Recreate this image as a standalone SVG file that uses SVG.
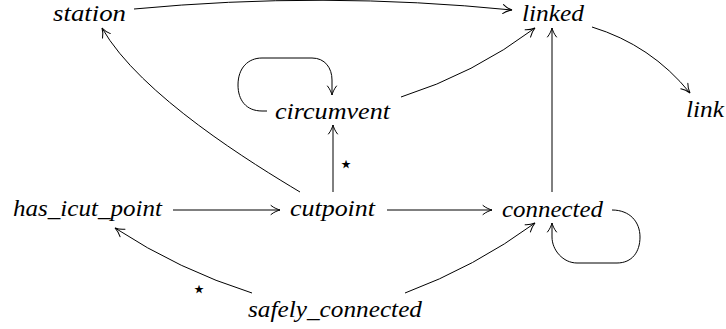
<svg xmlns="http://www.w3.org/2000/svg" width="726" height="329" viewBox="0 0 726 329">
<style>
  .edge { fill: none; stroke: #000; stroke-width: 1; marker-end: url(#arr); }
</style>
<defs>
  <marker id="arr" markerUnits="userSpaceOnUse" orient="auto" markerWidth="14" markerHeight="14" refX="0" refY="0" viewBox="-11 -7 14 14" overflow="visible">
    <path d="M-9,-4.5 C-6,-2 -2,-0.5 0,0 C-2,0.5 -6,2 -9,4.5" fill="none" stroke="#000" stroke-width="1" stroke-linecap="round"/>
  </marker>
</defs>
<g id="connectors">
  <path class="edge" d="M134,9 Q323,-9 512,10"/>
  <path class="edge" d="M592,27 Q651,45 690,93"/>
  <path class="edge" d="M401,97 Q474,74 535,28"/>
  <path class="edge" d="M267,111 L262,111 C246,111 238,100 238,85 C238,68 248,58 262,58 L312,58 C325,58 332,68 332,80 L332,95"/>
  <path class="edge" d="M333,192 L333,125"/>
  <path class="edge" d="M300,192 C255,165 140,95 102,28"/>
  <path class="edge" d="M173,210 L280,210"/>
  <path class="edge" d="M387,210 L492,210"/>
  <path class="edge" d="M552,192 L552,28"/>
  <path class="edge" d="M612,210 C630,210 640,222 640,237 C640,252 632,263 617,263 L577,263 C563,263 552,250 552,237 L552,223"/>
  <path class="edge" d="M405,293 Q475,267 535,223"/>
  <path class="edge" d="M252,293 Q179,270 115,228"/>
  <g font-family="DejaVu Sans" font-size="24" text-anchor="middle" fill="#000">
    <text x="346" y="171.5">⋆</text>
    <text x="199" y="296.5">⋆</text>
  </g>
</g>
<g font-family="Liberation Serif" font-style="italic" font-size="24" fill="#000">
<g id="station"><text x="53" y="21" textLength="73" lengthAdjust="spacingAndGlyphs">station</text></g>
<g id="linked"><text x="522" y="21" textLength="62" lengthAdjust="spacingAndGlyphs">linked</text></g>
<g id="link"><text x="686" y="117" textLength="38" lengthAdjust="spacingAndGlyphs">link</text></g>
<g id="circumvent"><text x="275" y="119" textLength="115" lengthAdjust="spacingAndGlyphs">circumvent</text></g>
<g id="has_icut_point"><text x="13" y="216" textLength="149" lengthAdjust="spacingAndGlyphs">has_icut_point</text></g>
<g id="cutpoint"><text x="290" y="216" textLength="85" lengthAdjust="spacingAndGlyphs">cutpoint</text></g>
<g id="connected"><text x="502" y="217" textLength="101" lengthAdjust="spacingAndGlyphs">connected</text></g>
<g id="safely_connected"><text x="248" y="317" textLength="174" lengthAdjust="spacingAndGlyphs">safely_connected</text></g>
</g>
</svg>
